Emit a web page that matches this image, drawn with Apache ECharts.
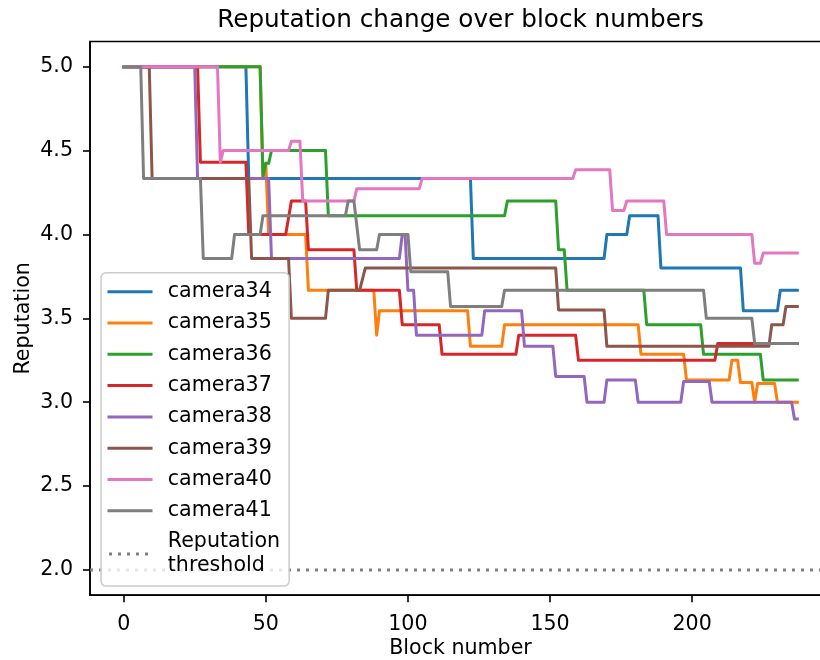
<!DOCTYPE html>
<html>
<head>
<meta charset="utf-8">
<script src="https://cdn.jsdelivr.net/npm/echarts@6/dist/echarts.min.js"></script>
<style>
  html, body { margin: 0; padding: 0; background: #ffffff; }
  #chart { width: 820px; height: 660px; }
</style>
</head>
<body>
<div id="chart"></div>
<script>
// Reputation of each camera node, as [block number, reputation] breakpoints
const camera34 = [[0,5],[43,5],[44,4.333],[122,4.333],[123,3.857],[169,3.857],[170,4.0],[177,4.0],[178,4.111],[188,4.111],[189,3.8],[217,3.8],[218,3.545],[230,3.545],[231,3.667],[237,3.667]];
const camera35 = [[0,5],[48,5],[49,4.345],[50,4.424],[51,4.0],[64,4.0],[65,3.667],[88,3.667],[89,3.4],[90,3.545],[121,3.545],[122,3.333],[133,3.333],[134,3.462],[181,3.462],[182,3.286],[197,3.286],[198,3.133],[213,3.133],[214,3.25],[216,3.25],[217,3.118],[221,3.118],[222,3.0],[223,3.111],[229,3.111],[230,3.0],[237,3.0]];
const camera36 = [[0,5],[48,5],[49,4.345],[50,4.424],[51,4.424],[52,4.5],[71,4.5],[72,4.111],[134,4.111],[135,4.2],[152,4.2],[153,3.909],[155,3.909],[156,3.667],[183,3.667],[184,3.462],[203,3.462],[204,3.286],[224,3.286],[225,3.133],[237,3.133]];
const camera37 = [[0,5],[26,5],[27,4.43],[43,4.43],[44,4.0],[57,4.0],[59,4.2],[64,4.2],[65,3.909],[81,3.909],[82,3.667],[97,3.667],[98,3.462],[111,3.462],[112,3.286],[138,3.286],[139,3.4],[159,3.4],[160,3.25],[208,3.25],[209,3.35],[237,3.35]];
const camera38 = [[0,5],[25,5],[26,4.333],[51,4.333],[52,3.857],[97,3.857],[98,4.0],[99,4.0],[100,3.667],[102,3.667],[103,3.4],[126,3.4],[127,3.545],[140,3.545],[141,3.333],[151,3.333],[152,3.154],[162,3.154],[163,3.0],[169,3.0],[170,3.133],[180,3.133],[181,3.0],[196,3.0],[197,3.123],[206,3.123],[207,3.0],[235,3.0],[236,2.9],[237,2.9]];
const camera39 = [[0,5],[9,5],[10,4.333],[44,4.333],[45,3.857],[58,3.857],[59,3.5],[71,3.5],[72,3.667],[83,3.667],[85,3.8],[152,3.8],[153,3.55],[169,3.55],[170,3.333],[227,3.333],[228,3.462],[232,3.462],[233,3.571],[237,3.571]];
const camera40 = [[0,5],[33,5],[34,4.43],[35,4.5],[58,4.5],[59,4.556],[62,4.556],[63,4.2],[81,4.2],[82,4.273],[104,4.273],[105,4.333],[158,4.333],[159,4.385],[171,4.385],[172,4.143],[176,4.143],[177,4.2],[190,4.2],[191,4.0],[221,4.0],[222,3.828],[224,3.828],[225,3.889],[237,3.889]];
const camera41 = [[0,5],[6,5],[7,4.333],[27,4.333],[28,3.857],[38,3.857],[39,4.0],[48,4.0],[49,4.111],[78,4.111],[79,4.2],[81,4.2],[83,3.909],[89,3.909],[90,4.0],[100,4.0],[101,3.778],[114,3.778],[115,3.571],[133,3.571],[134,3.667],[204,3.667],[205,3.5],[221,3.5],[222,3.35],[237,3.35]];

const cameraNames = ['camera34','camera35','camera36','camera37','camera38','camera39','camera40','camera41'];
const cameraColors = ['#1f77b4','#ff7f0e','#2ca02c','#d62728','#9467bd','#8c564b','#e377c2','#7f7f7f'];
const reputationThreshold = 2.0;
const thresholdLabel = 'Reputation\nthreshold';

const xTicks = [0, 50, 100, 150, 200];
const yTicks = [2.0, 2.5, 3.0, 3.5, 4.0, 4.5, 5.0];

const cameraSeries = [camera34, camera35, camera36, camera37, camera38, camera39, camera40, camera41];

// axis limits with a 5% margin around the data
const lastBlock = 237;
const xMin = -0.05 * lastBlock;
const xMax = lastBlock + 0.05 * lastBlock;
const yMin = reputationThreshold - 0.05 * (5 - reputationThreshold);
const yMax = 5 + 0.05 * (5 - reputationThreshold);

const FONT = 'DejaVu Sans';
const FS = 20.6;

const series = cameraSeries.map((pts, i) => ({
  name: cameraNames[i],
  type: 'line',
  data: pts,
  symbol: 'none',
  color: cameraColors[i],
  lineStyle: { width: 3, color: cameraColors[i], cap: 'square', join: 'round' },
  animation: false
}));

series.push({
  name: thresholdLabel,
  type: 'line',
  data: [[xMin, reputationThreshold], [xMax, reputationThreshold]],
  symbol: 'none',
  color: '#808080',
  lineStyle: { width: 3, color: '#808080', type: [3, 6], cap: 'butt' },
  animation: false
});

const chart = echarts.init(document.getElementById('chart'), null, { renderer: 'canvas' });
chart.setOption({
  backgroundColor: '#ffffff',
  animation: false,
  title: {
    text: 'Reputation change over block numbers',
    left: 460.5,
    top: 8,
    padding: 0,
    textAlign: 'center',
    textStyle: { fontFamily: FONT, fontSize: 24.7, fontWeight: 'normal', color: '#000' }
  },
  grid: {
    left: 90, top: 41.5, right: -11, bottom: 64.8,
    outerBoundsMode: 'none',
    show: true, borderColor: '#000', borderWidth: 1.6, backgroundColor: 'transparent'
  },
  legend: {
    orient: 'vertical',
    left: 101,
    top: 272.7,
    padding: [7, 9, 8, 6.5],
    itemGap: 7.3,
    itemWidth: 42,
    itemHeight: 14,
    data: cameraNames.concat([thresholdLabel]),
    itemStyle: { opacity: 0 },
    lineStyle: { width: 3 },
    textStyle: { fontFamily: FONT, fontSize: FS, color: '#000', lineHeight: 24, padding: [0, 0, 0, 11.8] },
    backgroundColor: 'rgba(255,255,255,0.8)',
    borderColor: '#cccccc',
    borderWidth: 1.5,
    borderRadius: 5
  },
  xAxis: {
    type: 'value',
    min: xMin,
    max: xMax,
    name: 'Block number',
    nameLocation: 'middle',
    nameGap: 43,
    nameMoveOverlap: false,
    nameTextStyle: { fontFamily: FONT, fontSize: FS, color: '#000' },
    axisLine: { show: true, onZero: false, lineStyle: { color: '#000', width: 1.6 } },
    axisTick: { show: true, length: 7, customValues: xTicks, lineStyle: { color: '#000', width: 1.6 } },
    axisLabel: { customValues: xTicks, margin: 18.5, fontFamily: FONT, fontSize: FS, color: '#000' },
    splitLine: { show: false }
  },
  yAxis: {
    type: 'value',
    min: yMin,
    max: yMax,
    name: 'Reputation',
    nameLocation: 'middle',
    nameGap: 56,
    nameMoveOverlap: false,
    nameTextStyle: { fontFamily: FONT, fontSize: FS, color: '#000' },
    axisLine: { show: true, onZero: false, lineStyle: { color: '#000', width: 1.6 } },
    axisTick: { show: true, length: 7, customValues: yTicks, lineStyle: { color: '#000', width: 1.6 } },
    axisLabel: { customValues: yTicks, margin: 17, fontFamily: FONT, fontSize: FS, color: '#000',
      formatter: v => v.toFixed(1) },
    splitLine: { show: false }
  },
  series: series
});
</script>
</body>
</html>
